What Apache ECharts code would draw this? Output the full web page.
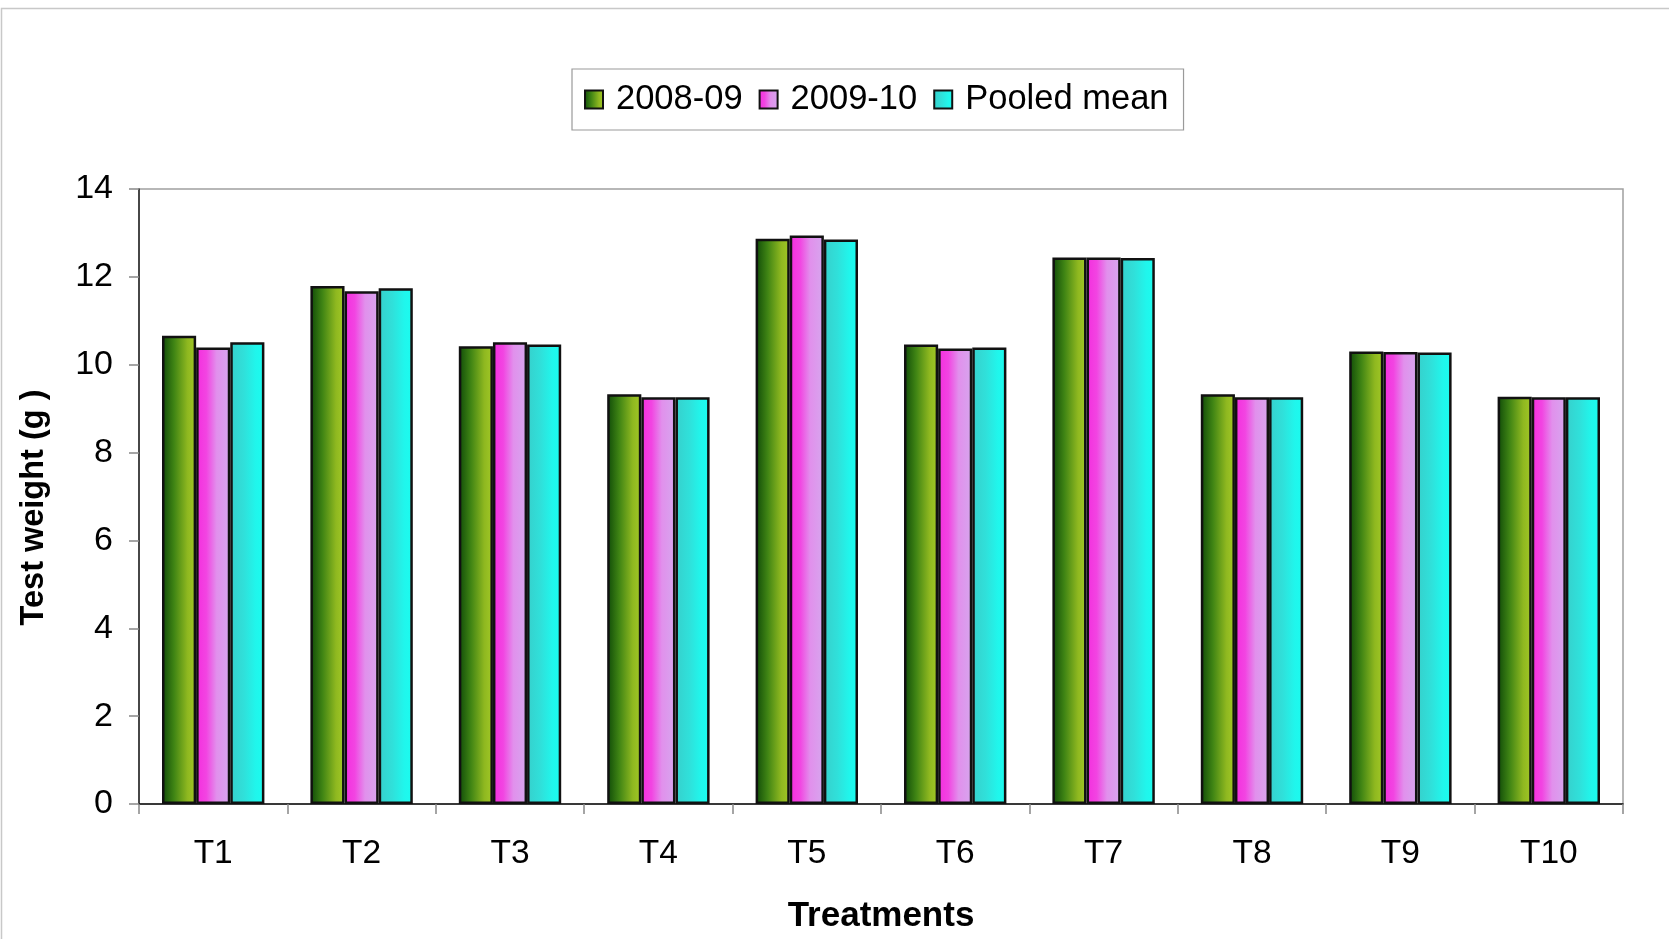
<!DOCTYPE html>
<html>
<head>
<meta charset="utf-8">
<script src="https://cdn.jsdelivr.net/npm/echarts@6/dist/echarts.min.js"></script>
<style>
  html, body { margin: 0; padding: 0; background: #fff; }
  #chart { width: 1669px; height: 939px; }
</style>
</head>
<body>
<div id="chart"></div>
<script>
// Test weight (g) per treatment for two seasons and their pooled mean
const treatments = ['T1', 'T2', 'T3', 'T4', 'T5', 'T6', 'T7', 'T8', 'T9', 'T10'];
const season2008 = [10.66, 11.79, 10.42, 9.33, 12.87, 10.46, 12.44, 9.33, 10.30, 9.27];
const season2009 = [10.39, 11.67, 10.51, 9.26, 12.94, 10.37, 12.44, 9.26, 10.29, 9.26];
const pooledMean = [10.51, 11.74, 10.46, 9.26, 12.85, 10.39, 12.43, 9.26, 10.28, 9.26];
const yTicks = { min: 0, max: 14, interval: 2 };

const FONT = '"Liberation Sans", Arial, sans-serif';
const grad = (stops) => new echarts.graphic.LinearGradient(0, 0, 1, 0,
  stops.map(([o, c]) => ({ offset: o, color: c })));

// left-to-right shading on each bar
const fills = [
  grad([[0, '#0f4a08'], [0.35, '#3f8414'], [0.75, '#8fb820'], [1, '#a2c826']]),
  grad([[0, '#f42ede'], [0.3, '#f244e2'], [0.6, '#e190ec'], [1, '#d6a6ee']]),
  grad([[0, '#36d0cc'], [0.4, '#30e0da'], [0.75, '#20f6ec'], [1, '#1afcf0']])
];

function barSeries(name, data, fill) {
  return {
    name: name,
    type: 'bar',
    data: data,
    barGap: '0%',
    barCategoryGap: '31%',
    itemStyle: { color: fill, borderColor: '#111', borderWidth: 2.5 },
    emphasis: { disabled: true }
  };
}

const chart = echarts.init(document.getElementById('chart'), null, { renderer: 'canvas' });
chart.setOption({
  backgroundColor: '#fff',
  animation: false,
  textStyle: { fontFamily: FONT },
  graphic: [{
    type: 'rect',
    shape: { x: 1.5, y: 8.5, width: 1700, height: 1000 },
    style: { fill: 'none', stroke: '#c8c8c8', lineWidth: 1.5 },
    silent: true
  }],
  legend: {
    left: 572,
    top: 69,
    padding: [13, 15, 13, 12],
    borderColor: '#9a9a9a',
    borderWidth: 1.2,
    itemGap: 16,
    itemWidth: 18,
    itemHeight: 18,
    icon: 'rect',
    itemStyle: { borderColor: '#111', borderWidth: 2 },
    textStyle: { fontSize: 34.5, color: '#000', fontFamily: FONT, padding: [0, 0, 0, 8] }
  },
  grid: {
    left: 139,
    right: 46,
    top: 189,
    bottom: 131,
    show: true,
    borderColor: '#a0a0a0',
    borderWidth: 1.5,
    containLabel: false
  },
  xAxis: {
    type: 'category',
    data: treatments,
    name: 'Treatments',
    nameLocation: 'middle',
    nameGap: 95,
    nameTextStyle: { fontSize: 35, fontWeight: 'bold', color: '#000', fontFamily: FONT },
    axisLine: { lineStyle: { color: '#111', width: 1.5 } },
    axisTick: { show: true, alignWithLabel: false, length: 10, lineStyle: { color: '#888', width: 1.5 } },
    axisLabel: { fontSize: 33.5, color: '#000', margin: 33, fontFamily: FONT },
    splitLine: { show: false }
  },
  yAxis: {
    type: 'value',
    min: yTicks.min,
    max: yTicks.max,
    interval: yTicks.interval,
    name: 'Test weight (g )',
    nameLocation: 'middle',
    nameGap: 88,
    nameRotate: 90,
    nameTextStyle: { fontSize: 32.5, fontWeight: 'bold', color: '#000', fontFamily: FONT, padding: [0, 22, 0, 0] },
    axisLine: { show: true, lineStyle: { color: '#222', width: 1.5 } },
    axisTick: { show: true, length: 10, lineStyle: { color: '#888', width: 1.5 } },
    axisLabel: { fontSize: 34, color: '#000', margin: 26, fontFamily: FONT },
    splitLine: { show: false }
  },
  series: [
    barSeries('2008-09', season2008, fills[0]),
    barSeries('2009-10', season2009, fills[1]),
    barSeries('Pooled mean', pooledMean, fills[2])
  ]
});
</script>
</body>
</html>
